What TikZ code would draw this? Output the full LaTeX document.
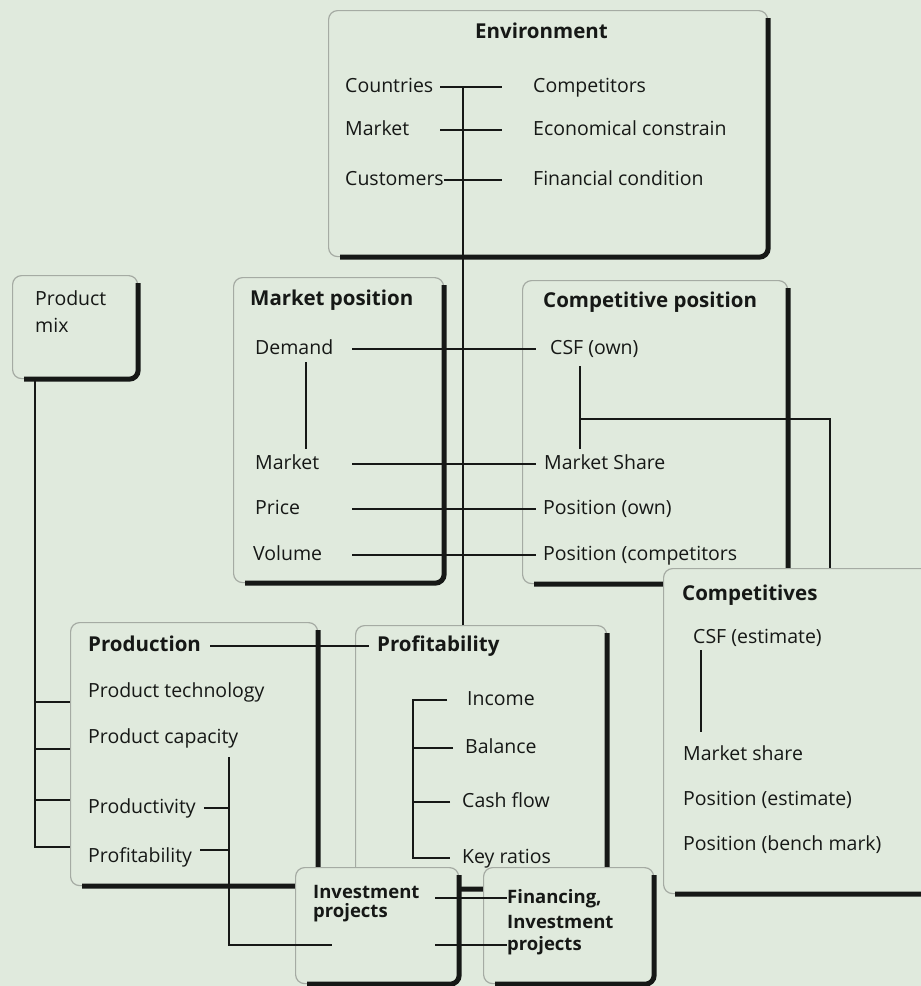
\documentclass[tikz,border=0pt]{standalone}
\usepackage{fontspec}
\setmainfont{Open Sans}
\usetikzlibrary{positioning}
\definecolor{paper}{RGB}{224,234,221}
\definecolor{ink}{RGB}{22,24,22}
\definecolor{rim}{RGB}{165,171,163}

\newcommand{\boxedge}[1]{%
  \draw[shadowline] ([yshift=-8pt]#1.north east) -- (#1.south east) -- ([xshift=12pt]#1.south west);}

\begin{document}
\begin{tikzpicture}[x=1pt,y=-1pt]
  \tikzstyle{panel}=[draw=rim, fill=paper, line width=1.2pt, rounded corners=9pt, anchor=north west, inner sep=0pt]
  \tikzstyle{shadowline}=[draw=ink, line width=5pt, rounded corners=9pt]
  \tikzstyle{entry}=[anchor=west, inner sep=0pt, text height=14pt, text depth=4pt, text=ink, font=\fontsize{19.5}{23}\selectfont]
  \tikzstyle{boxtitle}=[entry, font=\fontsize{20.5}{24}\selectfont\bfseries]
  \tikzstyle{smalltitle}=[entry, font=\fontsize{18.5}{21}\selectfont\bfseries]
  \tikzstyle{wire}=[draw=ink, line width=1.6pt]

  \useasboundingbox (0,0) rectangle (921,986);
  \clip (0,0) rectangle (921,986);
  \fill[paper] (0,0) rectangle (921,986);

  % boxes
  \node[panel, minimum width=439pt, minimum height=246pt] (env)     at (328,10)  {};
  \boxedge{env}
  \node[panel, minimum width=125pt, minimum height=103pt] (prodmix) at (12,275)  {};
  \boxedge{prodmix}
  \node[panel, minimum width=210pt, minimum height=305pt] (mktpos)  at (233,277) {};
  \boxedge{mktpos}
  \node[panel, minimum width=265pt, minimum height=303pt] (comppos) at (522,280) {};
  \boxedge{comppos}
  \node[panel, minimum width=247pt, minimum height=263pt] (prodn)   at (70,622)  {};
  \boxedge{prodn}
  \node[panel, minimum width=251pt, minimum height=263pt] (profit)  at (355,625) {};
  \boxedge{profit}
  \node[panel, minimum width=282pt, minimum height=325pt] (compets) at (663,568) {};
  \boxedge{compets}
  \node[panel, minimum width=163pt, minimum height=116pt] (invest)  at (295,867) {};
  \boxedge{invest}
  \node[panel, minimum width=170pt, minimum height=116pt] (financ)  at (483,867) {};
  \boxedge{financ}

  % texts
  \node[boxtitle] (envtitle)    at (475,33)  {Environment};
  \node[entry]    (countries)   at (345,87)  {Countries};
  \node[entry]    (envmarket)   at (345,130) {Market};
  \node[entry]    (customers)   at (345,180) {Customers};
  \node[entry]    (competitors) at (533,87)  {Competitors};
  \node[entry]    (econ)        at (533,130) {Economical constrain};
  \node[entry]    (financial)   at (533,180) {Financial condition};

  \node[entry]    (pmtop)       at (35,300)  {Product};
  \node[entry]    (pmbottom)    at (35,327)  {mix};

  \node[boxtitle] (mptitle)     at (250,300) {Market position};
  \node[entry]    (demand)      at (255,349) {Demand};
  \node[entry]    (mktm)        at (255,464) {Market};
  \node[entry]    (price)       at (255,509) {Price};
  \node[entry]    (volume)      at (253,555) {Volume};

  \node[boxtitle] (cptitle)     at (543,302) {Competitive position};
  \node[entry]    (csfown)      at (550,349) {CSF (own)};
  \node[entry]    (mshare)      at (544,464) {Market Share};
  \node[entry]    (posown)      at (543,509) {Position (own)};
  \node[entry]    (poscomp)     at (543,555) {Position (competitors};

  \node[boxtitle] (cstitle)     at (682,595) {Competitives};
  \node[entry]    (csfest)      at (693,638) {CSF (estimate)};
  \node[entry]    (msharetwo)   at (683,755) {Market share};
  \node[entry]    (posest)      at (683,800) {Position (estimate)};
  \node[entry]    (posbench)    at (683,845) {Position (bench mark)};

  \node[boxtitle] (prtitle)     at (88,646)  {Production};
  \node[entry]    (prodtech)    at (88,692)  {Product technology};
  \node[entry]    (prodcap)     at (88,738)  {Product capacity};
  \node[entry]    (prodvity)    at (88,808)  {Productivity};
  \node[entry]    (prodfit)     at (88,857)  {Profitability};

  \node[boxtitle] (pftitle)     at (377,646) {Profitability};
  \node[entry]    (income)      at (467,700) {Income};
  \node[entry]    (balance)     at (465,748) {Balance};
  \node[entry]    (cashflow)    at (462,802) {Cash flow};
  \node[entry]    (keyratios)   at (462,858) {Key ratios};

  \node[smalltitle] (invone)    at (313,893) {Investment};
  \node[smalltitle] (invtwo)    at (313,912) {projects};
  \node[smalltitle] (finone)    at (507,898) {Financing,};
  \node[smalltitle] (fintwo)    at (507,923) {Investment};
  \node[smalltitle] (finthree)  at (507,945) {projects};

  % junction columns
  \coordinate (envL)    at (440,0);
  \coordinate (envR)    at (502,0);
  \coordinate (envbar)  at (463,0);
  \coordinate (mpL)     at (352,0);
  \coordinate (mpR)     at (536,0);
  \coordinate (dmbar)   at (306,0);
  \coordinate (cpbar)   at (580,0);
  \coordinate (csfjoin) at (580,419);
  \coordinate (compbar) at (830,0);
  \coordinate (csbar)   at (701,0);
  \coordinate (pmbar)   at (35,0);
  \coordinate (capbar)  at (229,0);
  \coordinate (capend)  at (332,945);
  \coordinate (pfbar)   at (413,0);
  \coordinate (invL)    at (435,0);
  \coordinate (fitstub) at ([xshift=8pt,yshift=7pt]prodfit.east);

  % connectors
  \draw[wire] (countries -| envL) -- (competitors -| envR);
  \draw[wire] (envmarket -| envL) -- (econ -| envR);
  \draw[wire] (customers.east) -- (financial -| envR);
  \draw[wire] (countries -| envbar) -- (profit.north -| envbar);

  \draw[wire] (demand -| mpL) -- (csfown -| mpR);
  \draw[wire] (mktm -| mpL)   -- (mshare -| mpR);
  \draw[wire] (price -| mpL)  -- (posown -| mpR);
  \draw[wire] (volume -| mpL) -- (poscomp -| mpR);
  \draw[wire, shorten <=13pt, shorten >=15pt] (demand -| dmbar) -- (mktm -| dmbar);

  \draw[wire, shorten <=17pt, shorten >=15pt] (csfown -| cpbar) -- (mshare -| cpbar);
  \draw[wire] (csfjoin) -| (compets.north -| compbar);
  \draw[wire, shorten <=12pt, shorten >=23pt] (csfest -| csbar) -- (msharetwo -| csbar);

  \draw[wire, shorten <=9pt, shorten >=8pt] (prtitle.east) -- (pftitle.west);
  \draw[wire] (prodmix.south -| pmbar) |- (prodn.west |- 0,847);
  \foreach \y in {702,749,800}
    \draw[wire] (pmbar |- 0,\y) -- (prodn.west |- 0,\y);
  \draw[wire, shorten <=19pt] (prodcap -| capbar) |- (capend);
  \draw[wire] ([xshift=8pt]prodvity.east) -- (prodvity -| capbar);
  \draw[wire] (fitstub) -- (fitstub -| capbar);

  \draw[wire] ([xshift=-20pt]income.west) -| (keyratios -| pfbar) -- ([xshift=-12pt]keyratios.west);
  \foreach \n in {balance,cashflow}
    \draw[wire] ([xshift=-12pt]\n.west) -- (\n -| pfbar);

  \draw[wire] (finone -| invL)   -- (finone.west);
  \draw[wire] (finthree -| invL) -- (finthree.west);
\end{tikzpicture}
\end{document}
